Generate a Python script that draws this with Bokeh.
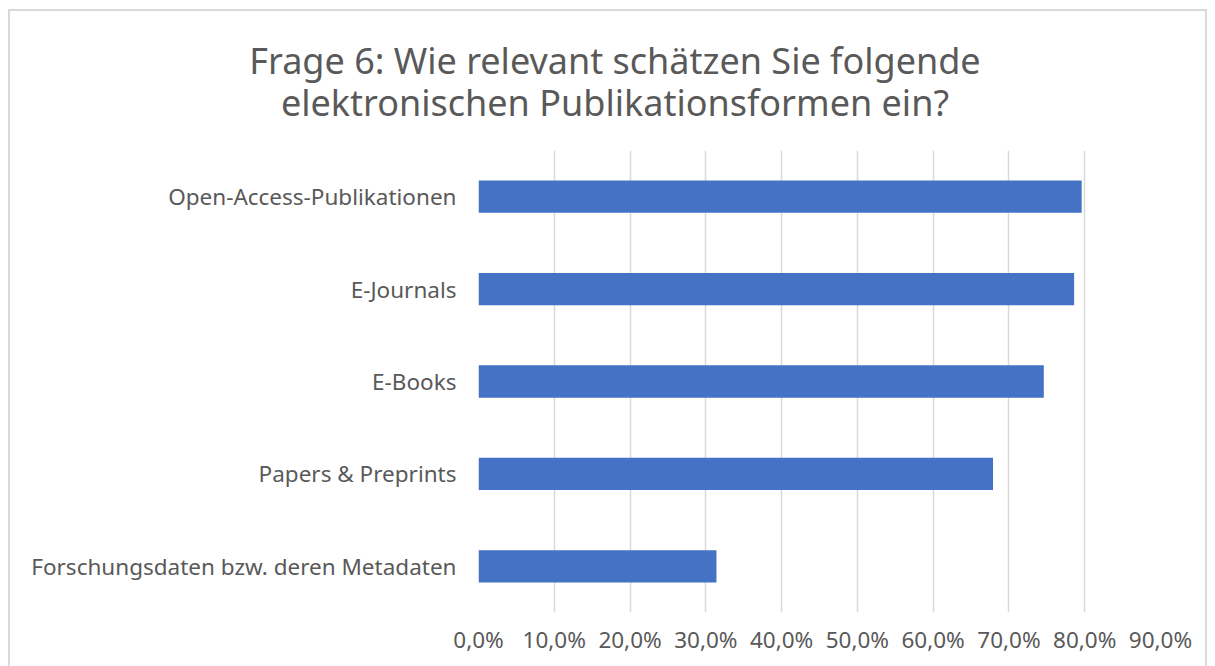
from bokeh.plotting import figure
from bokeh.models import FactorRange, Range1d, FixedTicker, Div
from bokeh.layouts import column
from bokeh.embed import file_html
from bokeh.resources import INLINE

# ---- data ----
categories = [
    "Open-Access-Publikationen",
    "E-Journals",
    "E-Books",
    "Papers & Preprints",
    "Forschungsdaten bzw. deren Metadaten",
]
values = [79.6, 78.6, 74.6, 67.9, 31.4]
tick_values = [0, 10, 20, 30, 40, 50, 60, 70, 80, 90]
tick_labels = ["0,0%", "10,0%", "20,0%", "30,0%", "40,0%", "50,0%",
               "60,0%", "70,0%", "80,0%", "90,0%"]
title_lines = ["Frage 6: Wie relevant schätzen Sie folgende",
               "elektronischen Publikationsformen ein?"]

FONT = "Noto Sans"
TEXT = "#595959"
BORDER = "2px solid #d9d9d9"

title_html = (
    "<div style=\"display:block;width:1195px;text-align:center;"
    "font-family:'Noto Sans';font-size:36px;line-height:42px;color:" + TEXT +
    ";padding-top:29px;padding-left:15px;box-sizing:border-box;\">"
    + "<br>".join(title_lines) + "</div>"
)
title_div = Div(text=title_html, width=1199, height=141,
                margin=(9, 0, 0, 8),
                styles={"border-top": BORDER, "border-left": BORDER,
                        "border-right": BORDER, "background": "white"})

p = figure(
    width=1199, height=516,
    y_range=FactorRange(factors=list(reversed(categories))),
    x_range=Range1d(tick_values[0], tick_values[-1]),
    output_backend="svg", toolbar_location=None,
    min_border_left=468, min_border_right=49,
    min_border_top=0, min_border_bottom=54,
)
p.margin = (0, 0, 0, 8)
p.styles = {"border-left": BORDER, "border-right": BORDER}

p.hbar(y=categories, right=values, left=0, height=0.35,
       fill_color="#4472C4", line_color=None)

p.outline_line_color = None
p.background_fill_color = "white"
p.border_fill_color = "white"

p.ygrid.grid_line_color = None
p.xgrid.grid_line_color = "#d9d9d9"
p.xgrid.grid_line_width = 1.5
p.xaxis.ticker = FixedTicker(ticks=tick_values)
p.xaxis.major_label_overrides = {v: s for v, s in zip(tick_values, tick_labels)}

for ax in (p.xaxis[0], p.yaxis[0]):
    ax.axis_line_color = None
    ax.major_tick_line_color = None
    ax.minor_tick_line_color = None
    ax.major_label_text_font = FONT
    ax.major_label_text_font_size = "22.5px"
    ax.major_label_text_color = TEXT

p.xaxis.major_label_standoff = 5
p.yaxis.major_label_standoff = 16

layout = column(title_div, p, spacing=0)
open("out.html", "w").write(file_html(layout, INLINE))
